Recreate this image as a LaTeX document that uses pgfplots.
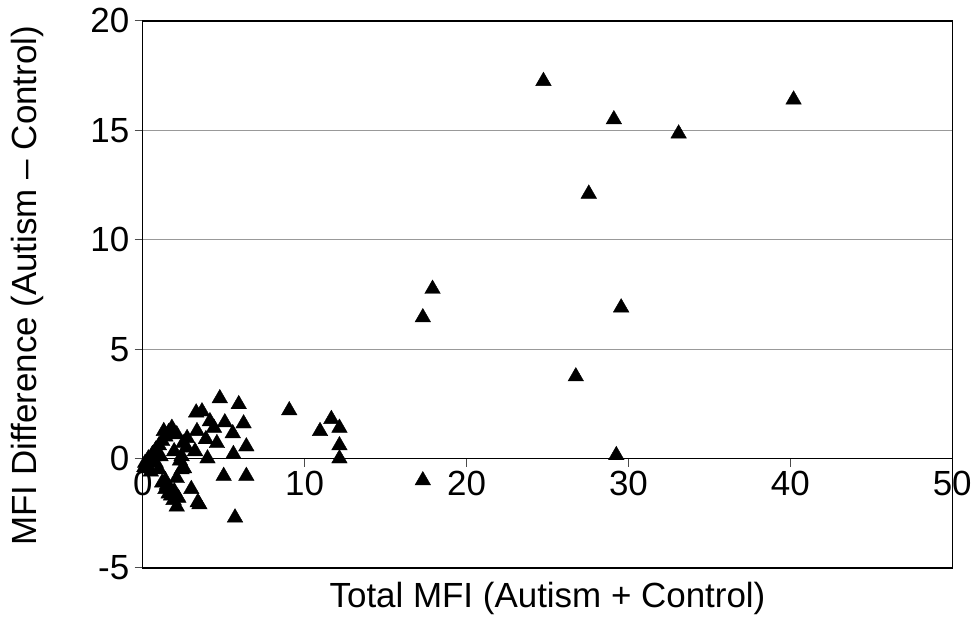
\documentclass[border=0pt]{standalone}
\usepackage{pgfplots}
\pgfplotsset{compat=1.18}
\usepackage{fontspec}
\setmainfont{Liberation Sans}
\begin{document}
\begin{tikzpicture}
\begin{axis}[
 width=811pt, height=548pt, scale only axis,
 xmin=0, xmax=50, ymin=-5, ymax=20,
 axis x line=middle, axis y line=left,
 axis line style={-, line width=1.3pt, black},
 hide obscured x ticks=false, hide obscured y ticks=false,
 xtick={0,10,...,50}, ytick={-5,0,...,20},
 tick align=outside,
 major tick length=8pt,
 tick style={black!70, line width=1pt},
 ymajorgrids, grid style={gray!80, line width=1pt},
 font=\fontsize{35}{41}\selectfont,
 /pgf/number format/assume math mode=true,
 xticklabel style={yshift=-1pt},
 yticklabel style={xshift=-2pt},
 xlabel={Total MFI (Autism + Control)},
 ylabel={MFI Difference (Autism – Control)},
 every axis x label/.style={at={(rel axis cs:0.5,0)}, anchor=north, yshift=-11pt},
 every axis y label/.style={at={(rel axis cs:0,0.516)}, xshift=-96pt, rotate=90, anchor=south},
 clip=false,
]
\addplot[only marks, mark=triangle*, mark size=9pt, mark options={fill=black, draw=black}] table {
x y
24.75 17.25
29.1 15.5
27.55 12.1
33.1 14.85
40.2 16.4
29.55 6.9
26.75 3.75
29.25 0.15
17.3 -1.0
17.3 6.45
17.9 7.75
9.05 2.2
10.95 1.25
11.65 1.8
12.15 1.4
12.15 0.6
12.15 0.0
4.76 2.75
5.93 2.48
3.3 2.1
3.66 2.15
4.15 1.7
5.07 1.65
6.23 1.6
1.8 1.4
3.35 1.25
4.4 1.4
5.56 1.15
2.74 0.93
4.58 0.7
6.4 0.55
3.9 0.88
3.23 0.33
1.94 0.33
4.0 0.0
5.6 0.2
2.4 0.1
5.0 -0.8
6.4 -0.8
5.7 -2.7
3.5 -2.1
3.4 -2.0
2.1 -2.2
3.0 -1.4
1.75 -1.7
1.6 -1.6
2.55 -0.45
2.1 -0.9
1.4 -1.0
1.2 -1.1
1.5 -1.2
0.25 -0.3
0.1 -0.4
0.15 -0.2
0.5 -0.6
1.0 -0.5
1.95 -1.5
1.4 -1.4
0.35 0.0
0.6 0.2
0.8 0.4
1.0 0.6
1.2 0.8
1.4 1.0
1.6 1.2
1.3 1.25
2.1 1.1
2.5 0.7
2.7 0.5
2.3 -0.1
1.1 0.1
0.8 -0.2
2.2 -1.8
1.9 -1.9
2.4 -0.5
0.7 0.1
};
\draw[line width=1.3pt] (rel axis cs:0,0) rectangle (rel axis cs:1,1);
\end{axis}
\path ([xshift=-143pt,yshift=-50pt]current axis.south west) rectangle ([xshift=21pt,yshift=21pt]current axis.north east);
\end{tikzpicture}
\end{document}
